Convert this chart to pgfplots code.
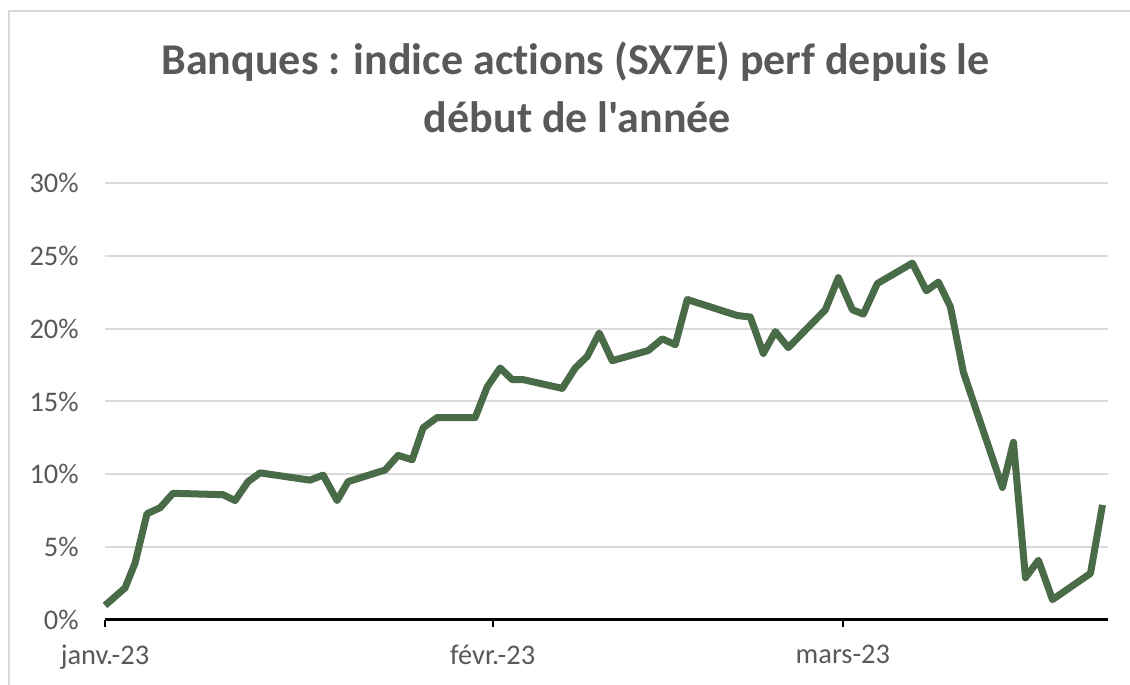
\documentclass[border=0pt]{standalone}
\usepackage{fontspec}
\setmainfont{Carlito}
\newfontfamily\titlefont{Carlito}[Ligatures={NoCommon,NoRare,NoContextual}]
\usepackage{pgfplots}
\pgfplotsset{compat=1.18}
\definecolor{txtgray}{HTML}{595959}
\definecolor{gridgray}{HTML}{D9D9D9}
\definecolor{linegreen}{RGB}{74,107,71}
\begin{document}
\begin{tikzpicture}[x=1pt,y=1pt]
\useasboundingbox (0,0) rectangle (565,342.5);
\fill[white] (0,0) rectangle (565,342.5);
\draw[gridgray, line width=1.2pt] (4.5,0) -- (4.5,337) -- (565,337);
\node[txtgray, font=\titlefont\fontsize{22}{26}\selectfont\bfseries, anchor=base] at (287.75,305) {Banques : indice actions (SX7E) perf depuis le};
\node[txtgray, font=\titlefont\fontsize{22}{26}\selectfont\bfseries, anchor=base] at (288.75,276) {début de l'année};
\begin{axis}[
  at={(52.5pt,32.5pt)}, anchor=south west,
  scale only axis, width=501.5pt, height=218.5pt,
  xmin=0, xmax=80.2, ymin=0, ymax=30,
  axis x line=bottom, axis y line=left,
  x axis line style={-, black, line width=1.5pt},
  y axis line style={draw=none},
  xtick={0,31,59}, xticklabels={janv.-23, févr.-23, mars-23},
  ytick={0,5,10,15,20,25,30},
  yticklabel={\pgfmathprintnumber{\tick}\%},
  tick align=outside,
  major tick length=3.5pt,
  x tick style={black, line width=1pt},
  y tick style={draw=none},
  ymajorgrids, grid style={gridgray, line width=1pt},
  tick label style={txtgray, font=\fontsize{14.2}{16}\selectfont},
  /pgf/number format/assume math mode=true,
  yticklabel style={anchor=east, inner sep=0pt, xshift=-9.5pt},
  xticklabel style={anchor=north, inner sep=0pt, yshift=-9pt},
  clip=false,
]
\addplot[linegreen, line width=3.5pt, line join=round, line cap=butt] coordinates {
(0,1.0) (1.6,2.2) (2.4,3.9) (3.36,7.3) (4.4,7.7) (5.44,8.7) (9.44,8.6) (10.4,8.2)
(11.44,9.5) (12.4,10.1) (16.4,9.6) (17.44,9.95) (18.56,8.2) (19.44,9.5) (22.4,10.3)
(23.44,11.3) (24.56,11.0) (25.44,13.2) (26.56,13.9) (29.6,13.9) (30.56,16.0)
(31.6,17.3) (32.56,16.5) (33.44,16.5) (36.56,15.9) (37.6,17.3) (38.56,18.1)
(39.52,19.7) (40.56,17.8) (43.44,18.5) (44.56,19.3) (45.6,18.9) (46.56,22.0)
(50.56,20.9) (51.6,20.8) (52.64,18.3) (53.6,19.8) (54.64,18.7) (57.6,21.3)
(58.64,23.5) (59.76,21.3) (60.64,21.0) (61.76,23.1) (64.56,24.5) (65.68,22.6)
(66.64,23.2) (67.6,21.5) (68.64,17.0) (71.76,9.1) (72.64,12.2) (73.6,2.9)
(74.64,4.1) (75.76,1.4) (78.8,3.2) (79.76,7.9)
};
\end{axis}
\end{tikzpicture}
\end{document}
